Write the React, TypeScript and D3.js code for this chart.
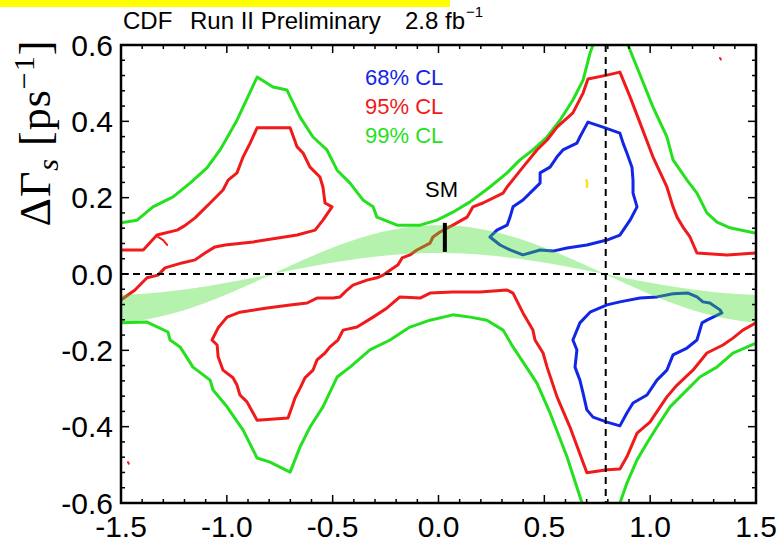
import React from 'react';
import * as d3 from 'd3';

const WIDTH = 783;
const HEIGHT = 542;
const MARGIN = { top: 45, right: 27, bottom: 39, left: 121 };

const X_DOMAIN: [number, number] = [-1.5, 1.5];
const Y_DOMAIN: [number, number] = [-0.6, 0.6];
const X_TICKS = [-1.5, -1.0, -0.5, 0.0, 0.5, 1.0, 1.5];
const Y_TICKS = [-0.6, -0.4, -0.2, 0.0, 0.2, 0.4, 0.6];
const X_MINOR_STEP = 0.1;
const Y_MINOR_STEP = 0.04;

type Pt = [number, number];

// 68% CL contours
const CL68_UPPER: Pt[] = [
  [0.243, 0.097], [0.276, 0.115], [0.324, 0.128], [0.338, 0.149], [0.352, 0.176],
  [0.399, 0.194], [0.432, 0.212], [0.48, 0.238], [0.48, 0.265], [0.527, 0.28],
  [0.56, 0.307], [0.588, 0.325], [0.654, 0.343], [0.668, 0.359], [0.706, 0.398],
  [0.777, 0.385], [0.857, 0.369], [0.872, 0.343], [0.89, 0.317], [0.914, 0.28],
  [0.919, 0.246], [0.919, 0.212], [0.938, 0.176], [0.905, 0.141], [0.857, 0.102],
  [0.796, 0.089], [0.701, 0.076], [0.607, 0.068], [0.541, 0.06], [0.48, 0.063],
  [0.399, 0.05], [0.338, 0.063], [0.291, 0.076], [0.243, 0.097],
];
const CL68_LOWER: Pt[] = [
  [0.635, -0.173], [0.654, -0.199], [0.645, -0.244], [0.668, -0.278], [0.683, -0.312],
  [0.701, -0.356], [0.73, -0.375], [0.796, -0.388], [0.857, -0.398], [0.89, -0.364],
  [0.919, -0.338], [0.985, -0.317], [1.032, -0.278], [1.079, -0.252], [1.108, -0.212],
  [1.174, -0.194], [1.221, -0.173], [1.245, -0.128], [1.268, -0.121], [1.339, -0.102],
  [1.33, -0.094], [1.282, -0.076], [1.249, -0.073], [1.221, -0.06], [1.179, -0.05],
  [1.108, -0.052], [1.032, -0.06], [0.952, -0.063], [0.857, -0.073], [0.796, -0.081],
  [0.716, -0.1], [0.668, -0.128], [0.635, -0.173],
];

// 95% CL contours
const CL95_LEFT: Pt[] = [
  [-1.5, 0.063], [-1.395, 0.063], [-1.33, 0.102], [-1.235, 0.115], [-1.2, 0.126],
  [-1.15, 0.147], [-1.112, 0.168], [-1.079, 0.186], [-1.018, 0.22], [-0.994, 0.246],
  [-0.952, 0.265], [-0.923, 0.307], [-0.89, 0.343], [-0.857, 0.383], [-0.701, 0.383],
  [-0.668, 0.333], [-0.64, 0.317], [-0.607, 0.28], [-0.56, 0.254], [-0.546, 0.228],
  [-0.536, 0.186], [-0.503, 0.176], [-0.546, 0.141], [-0.583, 0.115], [-0.668, 0.102],
  [-0.876, 0.084], [-1.008, 0.076], [-1.056, 0.071], [-1.103, 0.055], [-1.15, 0.037],
  [-1.212, 0.029], [-1.292, 0.016], [-1.325, -0.003], [-1.377, -0.01], [-1.434, -0.042],
  [-1.5, -0.068],
];
const CL95_MAIN: Pt[] = [
  [1.5, 0.055], [1.363, 0.05], [1.221, 0.055], [1.188, 0.097], [1.155, 0.123],
  [1.127, 0.149], [1.108, 0.176], [1.079, 0.228], [1.013, 0.307], [0.952, 0.396],
  [0.905, 0.464], [0.857, 0.529], [0.796, 0.521], [0.706, 0.511], [0.683, 0.474],
  [0.635, 0.422], [0.56, 0.385], [0.513, 0.351], [0.465, 0.325], [0.399, 0.28],
  [0.324, 0.228], [0.305, 0.212], [0.21, 0.186], [0.163, 0.176], [0.135, 0.149],
  [0.068, 0.128], [0.007, 0.11], [-0.026, 0.097], [-0.04, 0.081], [-0.102, 0.063],
  [-0.135, 0.05], [-0.172, 0.042], [-0.191, 0.024], [-0.229, 0.01], [-0.262, -0.003],
  [-0.291, -0.01], [-0.338, -0.016], [-0.404, -0.029], [-0.432, -0.042], [-0.465, -0.06],
  [-0.498, -0.063], [-0.574, -0.063], [-0.621, -0.076], [-0.701, -0.081], [-0.81, -0.089],
  [-0.938, -0.1], [-0.999, -0.113], [-1.041, -0.141], [-1.07, -0.173], [-1.046, -0.186],
  [-1.041, -0.217], [-1.018, -0.252], [-0.971, -0.272], [-0.952, -0.291], [-0.938, -0.317],
  [-0.905, -0.335], [-0.857, -0.383], [-0.711, -0.377], [-0.692, -0.348], [-0.678, -0.325],
  [-0.654, -0.299], [-0.631, -0.272], [-0.593, -0.252], [-0.574, -0.225], [-0.536, -0.207],
  [-0.513, -0.191], [-0.475, -0.173], [-0.451, -0.147], [-0.385, -0.139], [-0.309, -0.113],
  [-0.243, -0.089], [-0.182, -0.06], [-0.087, -0.063], [-0.04, -0.05], [0.068, -0.047],
  [0.196, -0.047], [0.324, -0.042], [0.352, -0.05], [0.399, -0.102], [0.446, -0.147],
  [0.456, -0.173], [0.494, -0.207], [0.513, -0.244], [0.56, -0.322], [0.621, -0.401],
  [0.701, -0.521], [0.796, -0.513], [0.857, -0.511], [0.89, -0.479], [0.938, -0.417],
  [0.999, -0.388], [1.079, -0.322], [1.127, -0.291], [1.202, -0.252], [1.268, -0.207],
  [1.344, -0.186], [1.391, -0.168], [1.438, -0.147], [1.5, -0.128],
];
const CL95_SPECKS: Pt[][] = [
  [[-1.325, 0.097], [-1.301, 0.089], [-1.282, 0.076]],
  [[1.33, 0.566], [1.334, 0.562]],
  [[-1.467, -0.493], [-1.463, -0.497]],
];

// 99% CL contours
const CL99_UPPER_LEFT: Pt[] = [
  [-1.5, 0.134], [-1.424, 0.141], [-1.349, 0.176], [-1.254, 0.202], [-1.174, 0.238],
  [-1.094, 0.278], [-1.032, 0.325], [-0.952, 0.403], [-0.857, 0.516], [-0.782, 0.49],
  [-0.716, 0.482], [-0.654, 0.411], [-0.593, 0.359], [-0.527, 0.325], [-0.479, 0.272],
  [-0.418, 0.238], [-0.357, 0.194], [-0.309, 0.176], [-0.291, 0.149], [-0.196, 0.128],
  [-0.087, 0.128], [-0.007, 0.141], [0.068, 0.162], [0.149, 0.189], [0.243, 0.228],
  [0.324, 0.265], [0.385, 0.299], [0.446, 0.325], [0.513, 0.359], [0.574, 0.403],
  [0.635, 0.456], [0.683, 0.508], [0.716, 0.579], [0.73, 0.6],
];
const CL99_UPPER_RIGHT: Pt[] = [
  [0.895, 0.6], [0.952, 0.522], [1.013, 0.438], [1.079, 0.359], [1.108, 0.299],
  [1.174, 0.246], [1.221, 0.212], [1.268, 0.16], [1.316, 0.136], [1.377, 0.121],
  [1.5, 0.107],
];
const CL99_LOWER_LEFT: Pt[] = [
  [-1.5, -0.128], [-1.377, -0.126], [-1.278, -0.152], [-1.268, -0.173], [-1.221, -0.191],
  [-1.16, -0.244], [-1.079, -0.278], [-1.065, -0.304], [-0.999, -0.348], [-0.923, -0.409],
  [-0.857, -0.482], [-0.796, -0.493], [-0.701, -0.519], [-0.654, -0.453], [-0.607, -0.401],
  [-0.546, -0.348], [-0.479, -0.27], [-0.418, -0.244], [-0.324, -0.199], [-0.229, -0.173],
  [-0.135, -0.139], [-0.04, -0.121], [0.068, -0.107], [0.149, -0.113], [0.229, -0.121],
  [0.305, -0.147], [0.352, -0.191], [0.465, -0.286], [0.527, -0.364], [0.607, -0.479],
  [0.678, -0.6],
];
const CL99_LOWER_RIGHT: Pt[] = [
  [0.857, -0.6], [0.89, -0.548], [0.938, -0.487], [0.985, -0.443], [1.032, -0.401],
  [1.094, -0.348], [1.141, -0.322], [1.235, -0.27], [1.315, -0.244], [1.391, -0.207],
  [1.5, -0.181],
];

// small isolated island of the inner likelihood level
const YELLOW_SPECK: Pt[] = [[0.699, 0.246], [0.703, 0.236], [0.701, 0.228]];

// Standard Model expectation: band ΔΓ = 2|Γ12| cos(φ), and the SM point
const GAMMA12_RANGE: [number, number] = [0.055, 0.128];
const SM_PHI = 0.03;
const SM_DGAMMA: [number, number] = [0.058, 0.134];
const VERTICAL_MARK_X = 0.79;

const LEGEND = [
  { label: '68% CL', color: '#1226e6' },
  { label: '95% CL', color: '#f01a1a' },
  { label: '99% CL', color: '#25e01e' },
];

const SANS = '"Liberation Sans", Arial, Helvetica, sans-serif';
const SERIF = '"Liberation Serif", "Times New Roman", serif';

export default function App() {
  const x = d3.scaleLinear().domain(X_DOMAIN).range([MARGIN.left, WIDTH - MARGIN.right]);
  const y = d3.scaleLinear().domain(Y_DOMAIN).range([HEIGHT - MARGIN.bottom, MARGIN.top]);
  const line = d3.line<Pt>().x((d) => x(d[0])).y((d) => y(d[1]));

  const left = MARGIN.left;
  const right = WIDTH - MARGIN.right;
  const top = MARGIN.top;
  const bottom = HEIGHT - MARGIN.bottom;

  const phiGrid = d3.range(X_DOMAIN[0], X_DOMAIN[1] + 0.0001, 0.01);
  const band = d3
    .area<number>()
    .x((p) => x(p))
    .y0((p) => y(GAMMA12_RANGE[0] * Math.cos(2 * p)))
    .y1((p) => y(GAMMA12_RANGE[1] * Math.cos(2 * p)));

  const xMinor = d3.range(X_DOMAIN[0], X_DOMAIN[1] + 1e-6, X_MINOR_STEP);
  const yMinor = d3.range(Y_DOMAIN[0], Y_DOMAIN[1] + 1e-6, Y_MINOR_STEP);
  const MAJOR = 8;
  const MINOR = 4;

  const red = LEGEND[1].color;
  const green = LEGEND[2].color;
  const blue = LEGEND[0].color;

  const contour = (pts: Pt[], color: string, key: string, w = 3) => (
    <path
      key={key}
      d={line(pts) || ''}
      fill="none"
      stroke={color}
      strokeWidth={w}
      strokeLinejoin="round"
      strokeLinecap="round"
    />
  );

  return (
    <svg
      width={WIDTH}
      height={HEIGHT}
      style={{ position: 'absolute', left: 0, top: 0, background: '#fff' }}
    >
      <defs>
        <clipPath id="plot-area">
          <rect x={left} y={top} width={right - left} height={bottom - top} />
        </clipPath>
      </defs>
      <rect width={WIDTH} height={HEIGHT} fill="#fff" />
      <rect x={0} y={0} width={450} height={7} fill="#ffff00" />

      <text fontFamily={SANS} fontSize={24} fill="#000">
        <tspan x={123} y={29}>CDF</tspan>
        <tspan x={190} y={29}>Run II Preliminary</tspan>
        <tspan x={405} y={29}>2.8 fb</tspan>
        <tspan x={466} y={17} fontSize={15}>−1</tspan>
      </text>

      <g clipPath="url(#plot-area)">
        {contour(CL99_UPPER_LEFT, green, 'g1')}
        {contour(CL99_UPPER_RIGHT, green, 'g2')}
        {contour(CL99_LOWER_LEFT, green, 'g3')}
        {contour(CL99_LOWER_RIGHT, green, 'g4')}
        {contour(CL95_LEFT, red, 'r1')}
        {contour(CL95_MAIN, red, 'r2')}
        {CL95_SPECKS.map((s, i) => contour(s, red, `rs${i}`, 2))}
        {contour(CL68_UPPER, blue, 'b1')}
        {contour(CL68_LOWER, blue, 'b2')}
        {contour(YELLOW_SPECK, '#f5e51a', 'ys', 2.5)}
        <path d={band(phiGrid) || ''} fill="rgb(60,220,40)" fillOpacity={0.38} stroke="none" />
        <line
          x1={left}
          x2={right}
          y1={y(0)}
          y2={y(0)}
          stroke="#000"
          strokeWidth={2}
          strokeDasharray="7,5"
        />
        <line
          x1={x(VERTICAL_MARK_X)}
          x2={x(VERTICAL_MARK_X)}
          y1={top}
          y2={bottom}
          stroke="#000"
          strokeWidth={2}
          strokeDasharray="7,5"
        />
        <line
          x1={x(SM_PHI)}
          x2={x(SM_PHI)}
          y1={y(SM_DGAMMA[0])}
          y2={y(SM_DGAMMA[1])}
          stroke="#000"
          strokeWidth={4}
        />
      </g>

      <text x={425} y={197} fontFamily={SANS} fontSize={22} fill="#000">SM</text>

      {LEGEND.map((d, i) => (
        <text key={d.label} x={365} y={85 + i * 29} fontFamily={SANS} fontSize={22} fill={d.color}>
          {d.label}
        </text>
      ))}

      {/* ticks on all four sides, pointing inward */}
      <g stroke="#000" strokeWidth={1.5}>
        {xMinor.map((v, i) => {
          const major = X_TICKS.some((t) => Math.abs(t - v) < 1e-6);
          const len = major ? MAJOR : MINOR;
          return (
            <g key={`xt${i}`}>
              <line x1={x(v)} x2={x(v)} y1={bottom} y2={bottom - len} />
              <line x1={x(v)} x2={x(v)} y1={top} y2={top + len} />
            </g>
          );
        })}
        {yMinor.map((v, i) => {
          const major = Y_TICKS.some((t) => Math.abs(t - v) < 1e-6);
          const len = major ? MAJOR : MINOR;
          return (
            <g key={`yt${i}`}>
              <line x1={left} x2={left + len} y1={y(v)} y2={y(v)} />
              <line x1={right} x2={right - len} y1={y(v)} y2={y(v)} />
            </g>
          );
        })}
      </g>
      <rect
        x={left}
        y={top}
        width={right - left}
        height={bottom - top}
        fill="none"
        stroke="#000"
        strokeWidth={2.5}
      />

      {Y_TICKS.map((t) => (
        <text
          key={`yl${t}`}
          x={left - 8}
          y={y(t)}
          dy="0.36em"
          textAnchor="end"
          fontFamily={SANS}
          fontSize={30}
          fill="#000"
        >
          {t.toFixed(1)}
        </text>
      ))}
      {X_TICKS.map((t) => (
        <text
          key={`xl${t}`}
          x={x(t)}
          y={bottom + 34}
          textAnchor="middle"
          fontFamily={SANS}
          fontSize={30}
          fill="#000"
        >
          {t.toFixed(1)}
        </text>
      ))}

      <text
        transform="translate(50,133) rotate(-90)"
        textAnchor="middle"
        fontFamily={SERIF}
        fontSize={44}
        fill="#000"
        letterSpacing={1}
      >
        <tspan>ΔΓ</tspan>
        <tspan fontStyle="italic" fontSize={30} dy={8}>s</tspan>
        <tspan dy={-8}>{'  [ps'}</tspan>
        <tspan fontSize={30} dy={-16}>−1</tspan>
        <tspan dy={16}>]</tspan>
      </text>
    </svg>
  );
}
